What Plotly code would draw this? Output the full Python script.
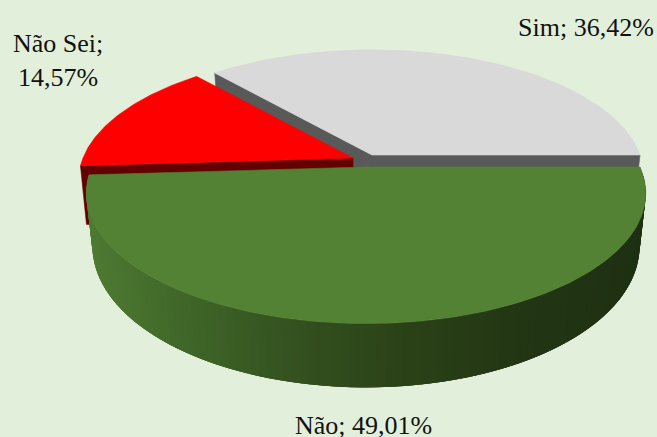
import math
import plotly.graph_objects as go

categories = ["Sim", "Não Sei", "Não"]
values = [36.42, 14.57, 49.01]
value_labels = ["36,42%", "14,57%", "49,01%"]

W, H = 657, 437
BG = "#E2EFDA"
SHRINK = 0.022    # lower face narrowing
# per slice: centre x, centre y, x radius, perspective, y radius, thickness
GEOM = {"Sim": (372, 155, 268, 0.16, 122, 52),
        "Não Sei": (353, 158, 270, 0.18, 123, 58),
        "Não": (366, 167, 274, 0.2016, 125, 51)}
TOP = {"Sim": "#D9D9D9", "Não Sei": "#FF0000", "Não": "#548235"}
FACE = {"Sim": "#595959", "Não Sei": "#640000"}
RIM_STOPS = [(87, (78, 122, 50)), (200, (61, 99, 39)), (300, (51, 80, 31)),
             (400, (43, 66, 24)), (520, (34, 54, 20)), (645, (30, 48, 18))]

fractions = [v / sum(values) * 360 for v in values]
a_sim = fractions[0]
a_sei = a_sim + fractions[1]


def P(cat, deg, h=0.0):
    cx, cy, rx, k, a, d = GEOM[cat]
    t = math.radians(deg)
    u, v = math.cos(t), math.sin(t)
    w = 1 + k * v
    return cx + rx * u / w * (1 - SHRINK * h), cy - a * v / w + d * h / w


def centre(cat, h=0.0):
    cx, cy, rx, k, a, d = GEOM[cat]
    return cx, cy + d * h


def arc(cat, d0, d1, h=0.0, n=90):
    return [P(cat, d0 + (d1 - d0) * i / n, h) for i in range(n + 1)]


def rim_color(x):
    s = RIM_STOPS
    if x <= s[0][0]:
        c = s[0][1]
    elif x >= s[-1][0]:
        c = s[-1][1]
    else:
        for (x0, c0), (x1, c1) in zip(s, s[1:]):
            if x0 <= x <= x1:
                f = (x - x0) / (x1 - x0)
                c = tuple(c0[i] + (c1[i] - c0[i]) * f for i in range(3))
                break
    return "rgb(%d,%d,%d)" % tuple(round(q) for q in c)


fig = go.Figure()


def poly(pts, color, stroke=0.6):
    xs = [p[0] for p in pts] + [pts[0][0]]
    ys = [p[1] for p in pts] + [pts[0][1]]
    fig.add_trace(go.Scatter(x=xs, y=ys, mode="lines", fill="toself", fillcolor=color,
                             line=dict(color=color, width=stroke), hoverinfo="skip", showlegend=False))


def cut(cat, deg, color):
    poly([centre(cat), P(cat, deg), P(cat, deg, 1), centre(cat, 1)], color)


# Sim
cut("Sim", 0, FACE["Sim"])
cut("Sim", a_sim, FACE["Sim"])
poly([centre("Sim")] + arc("Sim", 0, a_sim), TOP["Sim"])
# Não Sei
cut("Não Sei", a_sei, FACE["Não Sei"])
poly([centre("Não Sei")] + arc("Não Sei", a_sim, a_sei), TOP["Não Sei"])
# Não: rim strips (each overlaps the next so no seams show), then top
N = 120
step = fractions[2] / N
for i in range(N):
    d0 = -i * step
    d1 = -(i + 3) * step if i < N - 3 else -fractions[2]
    top_edge = arc("Não", d0, d1, 0, 3)
    low_edge = arc("Não", d1, d0, 1, 3)
    mid = P("Não", d0 - step / 2)[0]
    poly(top_edge + low_edge, rim_color(mid), stroke=0)
poly([centre("Não")] + arc("Não", 0, -fractions[2], n=180), TOP["Não"])

ann = [(586, 27, f"{categories[0]}; {value_labels[0]}"),
       (58, 60, f"{categories[1]};<br>{value_labels[1]}"),
       (363, 425, f"{categories[2]}; {value_labels[2]}")]
for x, y, t in ann:
    fig.add_annotation(x=x, y=y, text=t, showarrow=False, xanchor="center", yanchor="middle",
                       font=dict(family="Liberation Serif", size=26, color="#111111"))

fig.update_layout(width=W, height=H, margin=dict(l=0, r=0, t=0, b=0),
                  paper_bgcolor=BG, plot_bgcolor=BG, showlegend=False,
                  xaxis=dict(range=[0, W], visible=False, fixedrange=True),
                  yaxis=dict(range=[H, 0], visible=False, fixedrange=True))
fig.write_html("out.html", config=dict(displayModeBar=False),
               post_script="document.body.style.margin='0';document.body.style.overflow='hidden';")
